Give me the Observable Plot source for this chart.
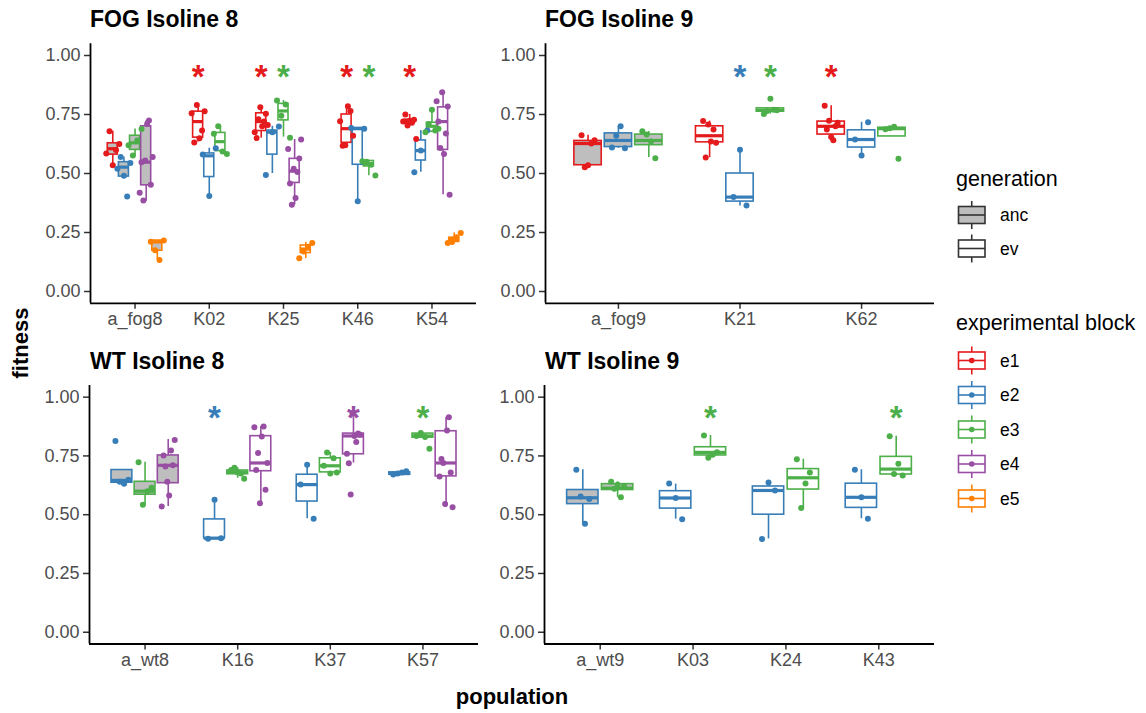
<!DOCTYPE html>
<html><head><meta charset="utf-8">
<script src="https://cdn.jsdelivr.net/npm/d3@7"></script>
<script src="https://cdn.jsdelivr.net/npm/@observablehq/plot@0.6"></script>
<style>
body{margin:0;background:#fff;}
#wrap{position:relative;width:1146px;height:713px;font-family:"Liberation Sans",Arial,sans-serif;background:#fff;}
#wrap > svg{position:absolute;}
</style></head><body><div id="wrap"></div>
<script>
const FONT = '"Liberation Sans", Arial, sans-serif';
const blockColors = {e1:"#E41A1C", e2:"#377EB8", e3:"#4DAF4A", e4:"#984EA3", e5:"#FF7F00"};
const blockNames = ["e1","e2","e3","e4","e5"];
const generations = ["anc","ev"];
const ancFill = "#BEBEBE";
const yTicks = [0, 0.25, 0.5, 0.75, 1];
const sigLevel = 0.93;

// ---------- FOG Isoline 8 ----------
const fog8Pops = ["a_fog8","K02","K25","K46","K54"];
const fog8Gen  = ["anc","ev","ev","ev","ev"];
// [population, block, lower whisker, Q1, median, Q3, upper whisker]
const fog8Boxes = [
  ["a_fog8","e1",0.535,0.58,0.605,0.628,0.679],
  ["a_fog8","e2",0.487,0.487,0.527,0.548,0.57],
  ["a_fog8","e3",0.573,0.60,0.63,0.66,0.689],
  ["a_fog8","e4",0.382,0.45,0.548,0.70,0.724],
  ["a_fog8","e5",0.136,0.173,0.21,0.216,0.216],
  ["K02","e1",0.633,0.652,0.72,0.762,0.785],
  ["K02","e2",0.405,0.485,0.575,0.585,0.607],
  ["K02","e3",0.59,0.595,0.635,0.672,0.70],
  ["K25","e1",0.65,0.68,0.72,0.755,0.781],
  ["K25","e2",0.50,0.58,0.675,0.682,0.70],
  ["K25","e3",0.654,0.725,0.765,0.795,0.809],
  ["K25","e4",0.367,0.46,0.51,0.562,0.644],
  ["K25","e5",0.14,0.163,0.18,0.195,0.208],
  ["K46","e1",0.618,0.63,0.69,0.75,0.785],
  ["K46","e2",0.385,0.537,0.69,0.693,0.693],
  ["K46","e3",0.49,0.53,0.54,0.553,0.555],
  ["K54","e1",0.703,0.712,0.72,0.728,0.75],
  ["K54","e2",0.505,0.555,0.597,0.64,0.682],
  ["K54","e3",0.675,0.677,0.70,0.715,0.77],
  ["K54","e4",0.41,0.60,0.72,0.78,0.845],
  ["K54","e5",0.205,0.21,0.22,0.228,0.248]
];
// [population, block, fitness values, left to right]
const fog8Points = [
  ["a_fog8","e1",[0.585,0.679,0.535,0.60,0.625]],
  ["a_fog8","e2",[0.52,0.57,0.49,0.403,0.545]],
  ["a_fog8","e3",[0.62,0.576,0.64,0.689]],
  ["a_fog8","e4",[0.418,0.548,0.386,0.555,0.71,0.725,0.452,0.57]],
  ["a_fog8","e5",[0.211,0.175,0.134,0.216]],
  ["K02","e1",[0.755,0.631,0.79,0.649,0.682,0.764]],
  ["K02","e2",[0.58,0.405,0.607]],
  ["K02","e3",[0.668,0.70,0.593,0.583]],
  ["K25","e1",[0.675,0.65,0.73,0.781,0.70,0.72,0.753,0.706]],
  ["K25","e2",[0.494,0.675,0.699]],
  ["K25","e3",[0.809,0.745,0.792,0.652]],
  ["K25","e4",[0.604,0.458,0.368,0.52,0.396,0.506,0.564,0.644]],
  ["K25","e5",[0.141,0.17,0.19,0.206]],
  ["K46","e1",[0.721,0.618,0.62,0.785,0.765,0.66]],
  ["K46","e2",[0.693,0.382,0.69]],
  ["K46","e3",[0.552,0.55,0.537,0.491]],
  ["K54","e1",[0.72,0.75,0.703,0.724,0.715,0.728,0.646]],
  ["K54","e2",[0.505,0.597,0.682]],
  ["K54","e3",[0.675,0.71,0.77,0.682,0.69]],
  ["K54","e4",[0.806,0.72,0.608,0.844,0.583,0.67,0.784,0.41]],
  ["K54","e5",[0.205,0.21,0.23,0.248]]
];
const fog8Signif = [["K02","e1"],["K25","e1"],["K25","e3"],["K46","e1"],["K46","e3"],["K54","e1"]];

// ---------- FOG Isoline 9 ----------
const fog9Pops = ["a_fog9","K21","K62"];
const fog9Gen  = ["anc","ev","ev"];
const fog9Boxes = [
  ["a_fog9","e1",0.527,0.535,0.627,0.638,0.662],
  ["a_fog9","e2",0.607,0.612,0.64,0.67,0.70],
  ["a_fog9","e3",0.568,0.62,0.64,0.665,0.678],
  ["K21","e1",0.567,0.632,0.66,0.70,0.722],
  ["K21","e2",0.362,0.381,0.40,0.50,0.60],
  ["K21","e3",0.752,0.762,0.768,0.776,0.776],
  ["K62","e1",0.641,0.665,0.70,0.72,0.787],
  ["K62","e2",0.577,0.61,0.644,0.683,0.717],
  ["K62","e3",0.657,0.657,0.69,0.694,0.698]
];
const fog9Points = [
  ["a_fog9","e1",[0.662,0.527,0.535,0.627,0.641]],
  ["a_fog9","e2",[0.61,0.66,0.70,0.607]],
  ["a_fog9","e3",[0.679,0.665,0.636,0.565]],
  ["K21","e1",[0.722,0.568,0.708,0.636,0.686,0.63]],
  ["K21","e2",[0.40,0.601,0.364]],
  ["K21","e3",[0.752,0.765,0.817,0.77,0.768]],
  ["K62","e1",[0.787,0.686,0.723,0.655,0.641,0.70,0.715]],
  ["K62","e2",[0.644,0.576,0.717]],
  ["K62","e3",[0.688,0.692,0.698,0.563]]
];
const fog9Signif = [["K21","e2"],["K21","e3"],["K62","e1"]];

// ---------- WT Isoline 8 ----------
const wt8Pops = ["a_wt8","K16","K37","K57"];
const wt8Gen  = ["anc","ev","ev","ev"];
const wt8Boxes = [
  ["a_wt8","e2",0.632,0.636,0.646,0.69,0.69],
  ["a_wt8","e3",0.542,0.585,0.60,0.64,0.723],
  ["a_wt8","e4",0.535,0.634,0.71,0.752,0.82],
  ["K16","e2",0.397,0.40,0.40,0.48,0.563],
  ["K16","e3",0.655,0.672,0.68,0.688,0.70],
  ["K16","e4",0.547,0.685,0.72,0.834,0.875],
  ["K37","e2",0.483,0.556,0.628,0.67,0.712],
  ["K37","e3",0.67,0.68,0.708,0.74,0.765],
  ["K37","e4",0.72,0.757,0.835,0.845,0.93],
  ["K57","e2",0.665,0.67,0.675,0.68,0.685],
  ["K57","e3",0.825,0.828,0.835,0.845,0.848],
  ["K57","e4",0.532,0.663,0.72,0.855,0.915]
];
const wt8Points = [
  ["a_wt8","e2",[0.813,0.64,0.632,0.649]],
  ["a_wt8","e3",[0.723,0.542,0.60,0.615]],
  ["a_wt8","e4",[0.535,0.752,0.705,0.64,0.582,0.773,0.71,0.818]],
  ["K16","e2",[0.398,0.564,0.40]],
  ["K16","e3",[0.69,0.70,0.68,0.675,0.653]],
  ["K16","e4",[0.872,0.69,0.762,0.549,0.833,0.875,0.606,0.72]],
  ["K37","e2",[0.628,0.712,0.483]],
  ["K37","e3",[0.708,0.765,0.675,0.74,0.68]],
  ["K37","e4",[0.759,0.719,0.586,0.93,0.835,0.809,0.845,0.84]],
  ["K57","e2",[0.671,0.675,0.68,0.685]],
  ["K57","e3",[0.835,0.848,0.83,0.78]],
  ["K57","e4",[0.663,0.737,0.72,0.546,0.858,0.915,0.68,0.532]]
];
const wt8Signif = [["K16","e2"],["K37","e4"],["K57","e3"]];

// ---------- WT Isoline 9 ----------
const wt9Pops = ["a_wt9","K03","K24","K43"];
const wt9Gen  = ["anc","ev","ev","ev"];
const wt9Boxes = [
  ["a_wt9","e2",0.461,0.545,0.572,0.605,0.691],
  ["a_wt9","e3",0.574,0.605,0.613,0.63,0.64],
  ["K03","e2",0.481,0.526,0.571,0.60,0.63],
  ["K03","e3",0.742,0.752,0.765,0.787,0.837],
  ["K24","e2",0.397,0.50,0.603,0.62,0.637],
  ["K24","e3",0.529,0.607,0.657,0.694,0.736],
  ["K43","e2",0.483,0.529,0.574,0.632,0.691],
  ["K43","e3",0.667,0.671,0.694,0.746,0.834]
];
const wt9Points = [
  ["a_wt9","e2",[0.691,0.577,0.461,0.567]],
  ["a_wt9","e3",[0.64,0.61,0.627,0.574,0.62]],
  ["K03","e2",[0.633,0.571,0.481]],
  ["K03","e3",[0.837,0.742,0.755,0.766]],
  ["K24","e2",[0.397,0.637,0.603]],
  ["K24","e3",[0.736,0.529,0.633,0.68]],
  ["K43","e2",[0.691,0.574,0.483]],
  ["K43","e3",[0.834,0.673,0.717,0.667]]
];
const wt9Signif = [["K03","e3"],["K43","e3"]];

const panels = [
  {title:"FOG Isoline 8", pops:fog8Pops, gen:fog8Gen, boxes:fog8Boxes, points:fog8Points, signif:fog8Signif,
   left:0, top:0, width:480, height:335, ml:90, mr:4, mt:43.2, mb:32.2, tx:90, ty:27},
  {title:"FOG Isoline 9", pops:fog9Pops, gen:fog9Gen, boxes:fog9Boxes, points:fog9Points, signif:fog9Signif,
   left:480, top:0, width:460, height:335, ml:65, mr:6, mt:43.2, mb:32.2, tx:545, ty:27},
  {title:"WT Isoline 8", pops:wt8Pops, gen:wt8Gen, boxes:wt8Boxes, points:wt8Points, signif:wt8Signif,
   left:0, top:340, width:482, height:350, ml:89, mr:4, mt:44.9, mb:46.5, tx:90, ty:369},
  {title:"WT Isoline 9", pops:wt9Pops, gen:wt9Gen, boxes:wt9Boxes, points:wt9Points, signif:wt9Signif,
   left:480, top:340, width:460, height:350, ml:64, mr:6, mt:44.9, mb:46.5, tx:545, ty:369}
];

const wrap = document.getElementById("wrap");

function drawPanel(p) {
  const nPop = p.pops.length;
  const present = p.pops.map(pop => p.boxes.filter(b => b[0] === pop).map(b => b[1]));
  const maxN = d3.max(present, a => a.length);
  const slot = 0.75 / maxN;
  const hw = slot * 0.9 / 2;
  const center = new Map();
  present.forEach((blocks, i) => blocks.forEach((bl, k) =>
    center.set(p.pops[i] + "|" + bl, i + slot * (k - (blocks.length - 1) / 2))));
  const pxPerUnit = (p.width - p.ml - p.mr) / (nPop - 1 + 1.2);
  const J = 6.5 / pxPerUnit;
  const boxRows = p.boxes.map(([pop, block, lo, q1, med, q3, hi]) => ({
    lo, q1, med, q3, hi,
    xc: center.get(pop + "|" + block),
    col: blockColors[block],
    fillc: p.gen[p.pops.indexOf(pop)] === "anc" ? ancFill : "white"
  }));
  const pointRows = p.points.flatMap(([pop, block, vals]) => vals.map((v, i) => ({
    px: center.get(pop + "|" + block) + (vals.length > 1 ? -J + 2 * J * i / (vals.length - 1) : 0),
    py: v, col: blockColors[block]
  })));
  const sigRows = p.signif.map(([pop, block]) => ({px: center.get(pop + "|" + block), py: sigLevel, col: blockColors[block]}));

  const svg = Plot.plot({
    width: p.width, height: p.height,
    marginLeft: p.ml, marginRight: p.mr, marginTop: p.mt, marginBottom: p.mb,
    style: {fontFamily: FONT, background: "transparent", overflow: "visible"},
    x: {type: "linear", domain: [-0.6, nPop - 0.4]},
    y: {domain: [-0.05, 1.05]},
    color: {type: "identity"},
    marks: [
      Plot.axisX({ticks: d3.range(nPop), tickFormat: i => p.pops[i], tickSize: 6, tickPadding: 3,
        fontSize: 18, stroke: "#333333", fill: "#4D4D4D", strokeWidth: 1.5, label: null}),
      Plot.axisY({ticks: yTicks, tickFormat: d3.format(".2f"), tickSize: 6, tickPadding: 4,
        fontSize: 18, stroke: "#333333", fill: "#4D4D4D", strokeWidth: 1.5, label: null}),
      Plot.ruleX([-0.6], {stroke: "black", strokeWidth: 1.8}),
      Plot.ruleY([-0.05], {stroke: "black", strokeWidth: 1.8}),
      Plot.ruleX(boxRows, {x: "xc", y1: "q3", y2: "hi", stroke: "col", strokeWidth: 1.6}),
      Plot.ruleX(boxRows, {x: "xc", y1: "lo", y2: "q1", stroke: "col", strokeWidth: 1.6}),
      Plot.rect(boxRows, {x1: d => d.xc - hw, x2: d => d.xc + hw, y1: "q1", y2: "q3",
        fill: "fillc", stroke: "col", strokeWidth: 1.6}),
      Plot.ruleY(boxRows, {y: "med", x1: d => d.xc - hw, x2: d => d.xc + hw, stroke: "col", strokeWidth: 3.2}),
      Plot.dot(pointRows, {x: "px", y: "py", fill: "col", r: 3}),
      Plot.text(sigRows, {x: "px", y: "py", text: () => "*", fill: "col", fontSize: 33, fontWeight: "bold", dy: 5})
    ]
  });
  svg.style.left = p.left + "px";
  svg.style.top = p.top + "px";
  wrap.appendChild(svg);
}
panels.forEach(drawPanel);

// ---------- overlay: titles, axis titles, legends ----------
const ov = d3.create("svg").attr("width", 1146).attr("height", 713)
  .style("left", "0px").style("top", "0px").style("pointer-events", "none")
  .style("font-family", FONT);
panels.forEach(p => ov.append("text").attr("x", p.tx).attr("y", p.ty)
  .attr("font-size", 23).attr("font-weight", "bold").attr("fill", "black").text(p.title));
ov.append("text").attr("transform", "translate(28,343) rotate(-90)").attr("text-anchor", "middle")
  .attr("font-size", 22).attr("font-weight", "bold").text("fitness");
ov.append("text").attr("x", 512).attr("y", 704).attr("text-anchor", "middle")
  .attr("font-size", 22).attr("font-weight", "bold").text("population");

function key(g, cy, stroke, fill, withDot) {
  const x0 = 958.5, w = 26.5;
  g.append("line").attr("x1", x0 + w / 2).attr("x2", x0 + w / 2).attr("y1", cy - 14).attr("y2", cy + 14)
    .attr("stroke", stroke).attr("stroke-width", 1.6);
  g.append("rect").attr("x", x0).attr("y", cy - 8.5).attr("width", w).attr("height", 17)
    .attr("fill", fill).attr("stroke", stroke).attr("stroke-width", 1.6);
  g.append("line").attr("x1", x0).attr("x2", x0 + w).attr("y1", cy).attr("y2", cy)
    .attr("stroke", stroke).attr("stroke-width", 1.6);
  if (withDot) g.append("circle").attr("cx", x0 + w / 2).attr("cy", cy).attr("r", 2.8).attr("fill", stroke);
}
const lg = ov.append("g");
lg.append("text").attr("x", 956).attr("y", 186).attr("font-size", 21.5).text("generation");
generations.forEach((gname, i) => {
  const cy = 215 + i * 33.5;
  key(lg, cy, "#333333", gname === "anc" ? ancFill : "white", false);
  lg.append("text").attr("x", 1000).attr("y", cy).attr("dy", "0.35em").attr("font-size", 17.5).text(gname);
});
lg.append("text").attr("x", 956).attr("y", 330).attr("font-size", 21.5).text("experimental block");
blockNames.forEach((b, i) => {
  const cy = 360.5 + i * 34.5;
  key(lg, cy, blockColors[b], "white", true);
  lg.append("text").attr("x", 1000).attr("y", cy).attr("dy", "0.35em").attr("font-size", 17.5).text(b);
});
wrap.appendChild(ov.node());
</script></body></html>
